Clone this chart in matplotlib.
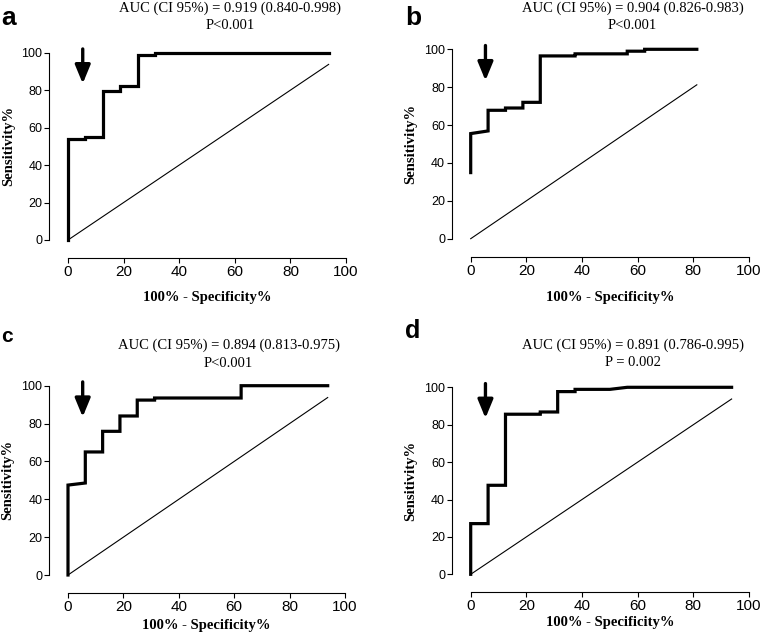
import numpy as np
import matplotlib
matplotlib.use('Agg')
import matplotlib.pyplot as plt

# ROC curves (x = 100% - specificity%, y = sensitivity%)
a_x = [0, 0, 6.25, 6.25, 12.5, 12.5, 18.75, 18.75, 25, 25, 31.25, 31.25, 93.75]
a_y = [0, 53.9, 53.9, 55.2, 55.2, 79.7, 79.7, 82.4, 82.4, 98.8, 98.8, 100, 100]

b_x = [0, 0, 6.25, 6.25, 12.5, 12.5, 18.75, 18.75, 25, 25, 37.5, 37.5, 56.25, 56.25, 62.5, 62.5, 81.25]
b_y = [34.9, 55.5, 56.9, 67.8, 67.8, 69.0, 69.0, 72.0, 72.0, 96.5, 96.5, 97.6, 97.6, 99.0, 99.0, 100, 100]

c_x = [0, 0, 6.25, 6.25, 12.5, 12.5, 18.75, 18.75, 25, 25, 31.25, 31.25, 62.5, 62.5, 93.75]
c_y = [0, 47.5, 48.6, 65.0, 65.0, 75.9, 75.9, 84.0, 84.0, 92.4, 92.4, 93.5, 93.5, 100, 100]

d_x = [0, 0, 6.25, 6.25, 12.5, 12.5, 25, 25, 31.25, 31.25, 37.5, 37.5, 50, 56.25, 93.75]
d_y = [0, 27.1, 27.1, 47.6, 47.6, 85.6, 85.6, 86.8, 86.8, 97.7, 97.7, 98.9, 98.9, 100, 100]

diag_end = [93.75, 81.25, 93.75, 93.75]
letters = ['a', 'b', 'c', 'd']
auc_text = ['AUC (CI 95%) = 0.919 (0.840-0.998)',
            'AUC (CI 95%) = 0.904 (0.826-0.983)',
            'AUC (CI 95%) = 0.894 (0.813-0.975)',
            'AUC (CI 95%) = 0.891 (0.786-0.995)']
p_text = ['P<0.001', 'P<0.001', 'P<0.001', 'P = 0.002']
ticks = [0, 20, 40, 60, 80, 100]

# arrow marking the chosen cut-off (x, top, tip)
arrow_x = 5.3
arrow_top = 102
arrow_tip = 83.5

W, H = 761, 640
fig = plt.figure(figsize=(W / 100, H / 100), dpi=100)

# pixel layout of each panel: x0, x100, y0, y100
boxes = [(68, 346, 240, 52.7),
         (470.7, 749, 238.7, 49.3),
         (68, 345, 575, 385.7),
         (470.7, 749, 574.3, 387.3)]
title_pos = [(230, 12, 29.3), (632.5, 11.7, 29), (228.5, 349.3, 366.7), (632.5, 349, 365.7)]
xlab_y = [301, 301, 629, 626]
ylab_x = [8.5, 411, 7.5, 411]
letter_pos = [(1, 25, 19), (405, 25, 19), (1.5, 341.7, 15), (405, 338.3, 18)]

curves = [(a_x, a_y), (b_x, b_y), (c_x, c_y), (d_x, d_y)]

serif = 'Liberation Serif'
sans = 'Liberation Sans'

for i in range(4):
    x0, x1, y0, y1 = boxes[i]
    ax = fig.add_axes([x0 / W, 1 - y0 / H, (x1 - x0) / W, (y0 - y1) / H])
    cx, cy = curves[i]
    ax.plot(cx, cy, color='black', lw=2.3, clip_on=False, solid_joinstyle='miter')
    ax.plot([0, diag_end[i]], [0, diag_end[i]], color='black', lw=0.8, clip_on=False)
    ax.annotate('', xy=(arrow_x, arrow_tip), xytext=(arrow_x, arrow_top),
                arrowprops=dict(arrowstyle='-|>,head_length=0.8,head_width=0.33',
                                lw=2.4, color='black', mutation_scale=14,
                                shrinkA=0, shrinkB=0))
    ax.set_xlim(0, 100)
    ax.set_ylim(0, 100)
    ax.set_xticks(ticks)
    ax.set_yticks(ticks)
    for s in ['top', 'right']:
        ax.spines[s].set_visible(False)
    ax.spines['left'].set_position(('outward', 13.5))
    ax.spines['bottom'].set_position(('outward', 13))
    ax.spines['left'].set_bounds(0, 100)
    ax.spines['bottom'].set_bounds(0, 100)
    for s in ['left', 'bottom']:
        ax.spines[s].set_linewidth(0.8)
    ax.tick_params(direction='out', length=3.5, width=0.8, pad=1.5)
    ax.tick_params(axis='x', labelsize=11)
    ax.tick_params(axis='y', labelsize=9)
    for lab in ax.get_xticklabels() + ax.get_yticklabels():
        lab.set_fontfamily(sans)

    tx, t1, t2 = title_pos[i]
    fig.text(tx / W, 1 - t1 / H, auc_text[i], ha='center', va='baseline',
             fontsize=10.5, family=serif)
    fig.text(tx / W, 1 - t2 / H, p_text[i], ha='center', va='baseline',
             fontsize=10.5, family=serif)
    fig.text((x0 + x1) / 2 / W, 1 - xlab_y[i] / H, '100% - Specificity%',
             ha='center', va='baseline', fontsize=10.5, family=serif, fontweight='bold')
    fig.text(ylab_x[i] / W, 1 - (y0 + y1) / 2 / H, 'Sensitivity%', rotation=90,
             ha='center', va='center', fontsize=10.5, family=serif, fontweight='bold')
    lx, ly, ls = letter_pos[i]
    fig.text(lx / W, 1 - ly / H, letters[i], ha='left', va='baseline',
             fontsize=ls, family=sans, fontweight='bold')

fig.savefig('out.png', dpi=100)
